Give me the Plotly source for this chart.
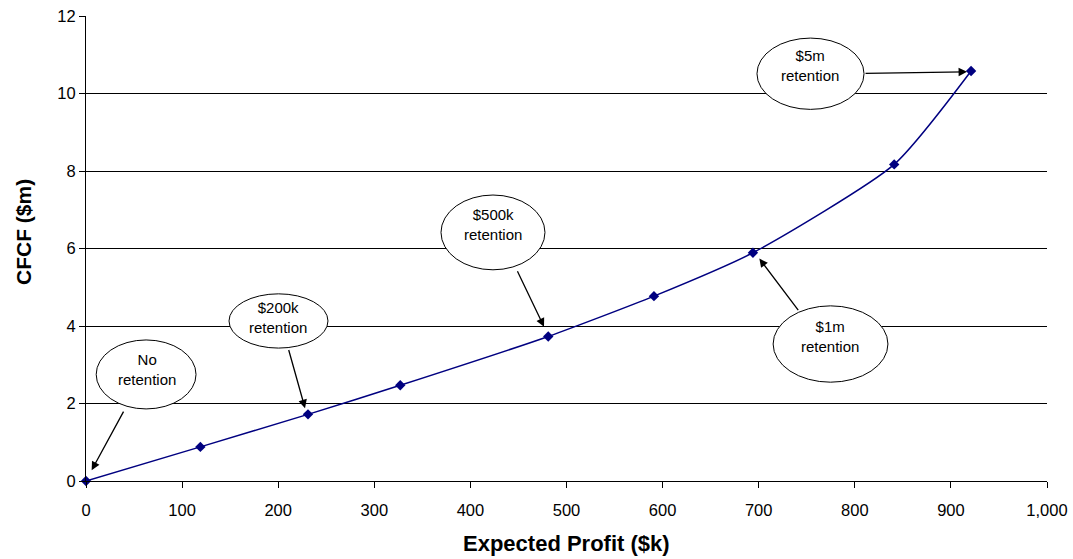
import plotly.graph_objects as go

profit_k = [0, 119, 231, 327, 481, 591, 694, 841, 921]
cfcf_m = [0.0, 0.88, 1.72, 2.47, 3.73, 4.77, 5.89, 8.17, 10.58]

labels = ["No<br>retention", "$200k<br>retention", "$500k<br>retention", "$1m<br>retention", "$5m<br>retention"]
label_x = [63.5, 200.3, 423.5, 774.7, 753.4]
label_y = [2.88, 4.23, 6.61, 3.72, 10.72]
ell_x0 = [10.6, 148.8, 369.4, 715.0, 698.2]
ell_x1 = [114.5, 251.8, 477.6, 834.5, 809.6]
ell_y0 = [1.86, 3.43, 5.45, 2.55, 9.59]
ell_y1 = [3.64, 4.83, 7.38, 4.52, 11.43]
arr_tail_x = [39.9, 210.5, 448.2, 742.3, 809.6]
arr_tail_y = [1.83, 3.42, 5.45, 4.37, 10.52]
arr_head_x = [5.9, 227.9, 476.6, 700.7, 916.8]
arr_head_y = [0.28, 1.88, 3.98, 5.74, 10.56]

FONT = "Liberation Sans, Arial, sans-serif"

fig = go.Figure()
fig.add_trace(go.Scatter(
    x=profit_k, y=cfcf_m, mode="lines+markers",
    line=dict(color="#000080", width=1.5, shape="spline", smoothing=0.6),
    marker=dict(symbol="diamond", size=8, color="#000080"),
    showlegend=False, cliponaxis=False,
))

shapes = []
annotations = []
for i in range(len(labels)):
    shapes.append(dict(type="circle", xref="x", yref="y",
                       x0=ell_x0[i], x1=ell_x1[i], y0=ell_y0[i], y1=ell_y1[i],
                       line=dict(color="black", width=1), fillcolor="white", layer="above"))
    annotations.append(dict(x=label_x[i], y=label_y[i], xref="x", yref="y", text=labels[i],
                            showarrow=False, font=dict(family=FONT, size=15, color="black")))
    annotations.append(dict(x=arr_head_x[i], y=arr_head_y[i], ax=arr_tail_x[i], ay=arr_tail_y[i],
                            xref="x", yref="y", axref="x", ayref="y", text="",
                            showarrow=True, arrowhead=2, arrowsize=1.3, arrowwidth=1.3,
                            arrowcolor="black", standoff=0, startstandoff=0))

annotations.append(dict(text="<b>Expected Profit ($k)</b>", xref="paper", yref="paper",
                        x=0.5, y=0, yshift=-62, xanchor="center", yanchor="middle",
                        showarrow=False, font=dict(family=FONT, size=22, color="black")))
annotations.append(dict(text="<b>CFCF ($m)</b>", xref="paper", yref="paper", textangle=-90,
                        x=0, xshift=-62, y=0.5355, xanchor="center", yanchor="middle",
                        showarrow=False, font=dict(family=FONT, size=21, color="black")))

fig.update_layout(
    width=1073, height=559,
    margin=dict(l=86, r=26, t=16, b=78),
    paper_bgcolor="white", plot_bgcolor="white",
    font=dict(family=FONT, size=16.5, color="black"),
    shapes=shapes, annotations=annotations,
    xaxis=dict(range=[0, 1000], tickvals=[0, 100, 200, 300, 400, 500, 600, 700, 800, 900, 1000],
               tickformat=",d", showgrid=False, zeroline=False, showline=True, linecolor="black",
               linewidth=1, ticks="outside", ticklen=6, tickcolor="black",
               automargin=False, ticklabelstandoff=8),
    yaxis=dict(range=[0, 12], tickvals=[0, 2, 4, 6, 8, 10, 12], showgrid=True, gridcolor="black",
               gridwidth=1, zeroline=False, showline=True, linecolor="black", linewidth=1,
               ticks="outside", ticklen=6, tickcolor="black", automargin=False),
)

fig.write_html("out.html")
